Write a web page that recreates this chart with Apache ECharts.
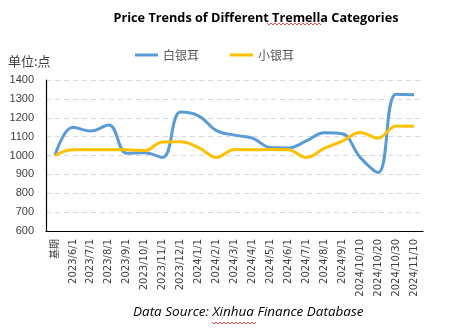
<!DOCTYPE html>
<html>
<head>
<meta charset="utf-8">
<script src="https://cdn.jsdelivr.net/npm/echarts@6/dist/echarts.min.js"></script>
<style>
  html, body { margin: 0; padding: 0; background: #fff; }
  #chart { width: 454px; height: 331px; }
</style>
</head>
<body>
<div id="chart"></div>
<script>
// Category axis: base period followed by sampling dates
const categories = [
  '基期', '2023/6/1', '2023/7/1', '2023/8/1', '2023/9/1', '2023/10/1', '2023/11/1',
  '2023/12/1', '2024/1/1', '2024/2/1', '2024/3/1', '2024/4/1', '2024/5/1', '2024/6/1',
  '2024/7/1', '2024/8/1', '2024/9/1', '2024/10/10', '2024/10/20', '2024/10/30', '2024/11/10'
];

// Price index, base period = 1000
const baiYinEr = [
  1000, 1150, 1130, 1162, 1012, 1015, 990, 1230, 1210, 1132, 1108,
  1092, 1042, 1040, 1077, 1120, 1115, 990, 910, 1325, 1322
];
const xiaoYinEr = [
  1000, 1030, 1030, 1030, 1030, 1026, 1072, 1073, 1042, 990, 1032,
  1030, 1032, 1030, 990, 1038, 1076, 1122, 1092, 1156, 1155
];

const yTicks = { min: 600, max: 1400, interval: 100 };

// small wavy underline (spell-check style squiggle)
function squiggle(x0, x1, y) {
  const pts = [];
  let up = true;
  for (let x = x0; x <= x1; x += 2) { pts.push([x, up ? y : y + 2]); up = !up; }
  return pts;
}

const chart = echarts.init(document.getElementById('chart'));
chart.setOption({
  animation: false,
  textStyle: { fontFamily: '"Noto Sans", "Noto Sans CJK SC", sans-serif' },
  title: {
    text: 'Price Trends of Different Tremella Categories',
    left: 251, textAlign: 'center', top: 7,
    textStyle: { fontSize: 12.7, fontWeight: 'bold', color: '#000', fontFamily: '"Open Sans", "Noto Sans", sans-serif' }
  },
  legend: {
    top: 44, left: 130,
    itemWidth: 23, itemHeight: 3, itemGap: 31,
    icon: 'rect',
    textStyle: { fontSize: 12, color: '#595959', fontFamily: '"Noto Sans CJK SC", sans-serif' },
    data: ['白银耳', '小银耳']
  },
  grid: { left: 46, right: 31, top: 80, bottom: 100 },
  xAxis: {
    type: 'category',
    data: categories,
    boundaryGap: true,
    axisLine: { lineStyle: { color: '#000', width: 1.2 } },
    axisTick: { show: false },
    axisLabel: {
      rotate: 90, interval: 0, fontSize: 10, color: '#404040', margin: 8,
      fontFamily: '"DejaVu Sans", "Noto Sans CJK SC", sans-serif'
    }
  },
  yAxis: {
    type: 'value',
    min: yTicks.min, max: yTicks.max, interval: yTicks.interval,
    axisLine: { show: true, lineStyle: { color: '#000', width: 1.2 } },
    axisTick: { show: false },
    axisLabel: {
      fontSize: 11, color: '#404040', margin: 12, fontFamily: '"Liberation Sans", Arial, sans-serif',
      formatter: v => String(v)
    },
    splitLine: { lineStyle: { color: '#d9d9d9', type: [5, 4] } }
  },
  series: [
    {
      name: '白银耳', type: 'line', data: baiYinEr, smooth: 0.4,
      symbol: 'none', lineStyle: { width: 3, color: '#5B9BD5' }, itemStyle: { color: '#5B9BD5' }
    },
    {
      name: '小银耳', type: 'line', data: xiaoYinEr, smooth: 0.4,
      symbol: 'none', lineStyle: { width: 3, color: '#FFC000' }, itemStyle: { color: '#FFC000' }
    }
  ],
  graphic: [
    {
      type: 'text', left: 8, top: 55,
      style: { text: '单位:点', fontSize: 13, fill: '#404040', fontFamily: '"Noto Sans CJK SC", sans-serif' }
    },
    {
      type: 'text', left: 133, top: 305,
      style: { text: 'Data Source: Xinhua Finance Database', fontSize: 13.5, fontStyle: 'italic', fill: '#000',
               fontFamily: '"Open Sans", "Noto Sans", sans-serif' }
    },
    { type: 'polyline', shape: { points: squiggle(267, 321, 23) }, style: { stroke: '#e02020', lineWidth: 0.8, fill: null } },
    { type: 'polyline', shape: { points: squiggle(212, 256, 322) }, style: { stroke: '#e02020', lineWidth: 0.8, fill: null } }
  ]
});
</script>
</body>
</html>
